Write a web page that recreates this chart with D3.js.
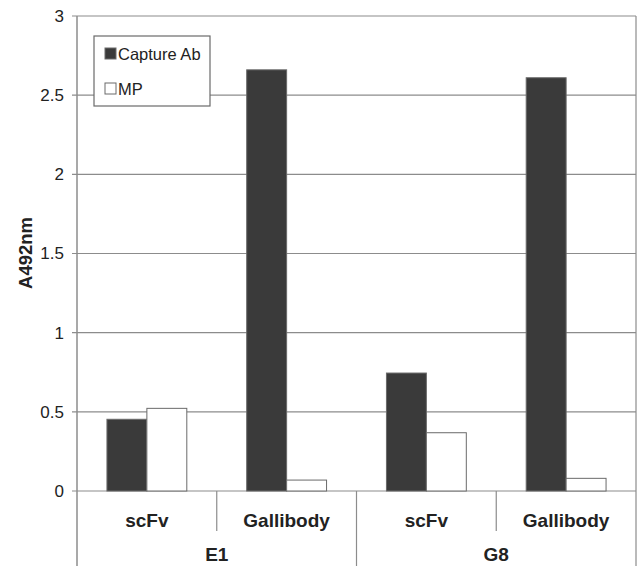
<!DOCTYPE html>
<html><head><meta charset="utf-8">
<script src="https://cdn.jsdelivr.net/npm/d3@7"></script>
<style>body{margin:0;background:#fff}svg{display:block}text{font-family:"Liberation Sans",Arial,sans-serif}</style>
</head><body><svg id="c" width="641" height="566"></svg>
<script>
const groups = ["E1", "G8"];
const subcats = ["scFv", "Gallibody", "scFv", "Gallibody"];
const groupOf = [0, 0, 1, 1];
const seriesNames = ["Capture Ab", "MP"];
const captureAb = [0.453, 2.66, 0.745, 2.61];
const mp = [0.522, 0.069, 0.368, 0.08];
const yTicks = [0, 0.5, 1, 1.5, 2, 2.5, 3];
const yTickLabels = ["0", "0.5", "1", "1.5", "2", "2.5", "3"];
const yTitle = "A492nm";

const svg = d3.select("#c");
const L = 77, R = 636, T = 16, B = 491;
const x = d3.scaleBand().domain(d3.range(subcats.length)).range([L, R]).paddingInner(0).paddingOuter(0);
const y = d3.scaleLinear().domain([0, 3]).range([B, T]);
const inner = d3.scaleBand().domain([0, 1]).range([0, x.bandwidth()]).paddingInner(0).paddingOuter(0.75);
const colors = ["#3a3a3a", "#ffffff"];
const gridC = "#8c8c8c";

svg.append("g").selectAll("line").data(yTicks).join("line")
  .attr("x1", L - 5).attr("x2", R).attr("y1", d => y(d)).attr("y2", d => y(d))
  .attr("stroke", gridC).attr("stroke-width", 1.2);
svg.append("line").attr("x1", R).attr("x2", R).attr("y1", T).attr("y2", 566).attr("stroke", gridC).attr("stroke-width", 1.2);
svg.append("line").attr("x1", L).attr("x2", L).attr("y1", T).attr("y2", 566).attr("stroke", gridC).attr("stroke-width", 1.5);

svg.append("g").selectAll("text").data(yTicks).join("text")
  .attr("x", 64).attr("y", d => y(d)).attr("dy", "0.35em").attr("text-anchor", "end")
  .attr("font-size", 17).attr("fill", "#222").text((d, i) => yTickLabels[i]);

const series = [captureAb, mp];
series.forEach((vals, s) => {
  svg.append("g").selectAll("rect").data(vals).join("rect")
    .attr("x", (d, i) => x(i) + inner(s))
    .attr("width", inner.bandwidth())
    .attr("y", d => y(d)).attr("height", d => y(0) - y(d))
    .attr("fill", colors[s]).attr("stroke", "#6a6a6a").attr("stroke-width", 1);
});

subcats.forEach((c, i) => {
  if (i === 0) return;
  const full = groupOf[i] !== groupOf[i - 1];
  svg.append("line").attr("x1", x(i)).attr("x2", x(i)).attr("y1", B).attr("y2", full ? 566 : 531)
    .attr("stroke", gridC).attr("stroke-width", 1.2);
});
svg.append("g").selectAll("text").data(subcats).join("text")
  .attr("x", (d, i) => x(i) + x.bandwidth() / 2).attr("y", 527).attr("text-anchor", "middle")
  .attr("font-size", 19).attr("font-weight", "bold").attr("fill", "#222").text(d => d);
svg.append("g").selectAll("text").data(groups).join("text")
  .attr("x", (d, g) => (x(2 * g) + x(2 * g + 1) + x.bandwidth()) / 2).attr("y", 561).attr("text-anchor", "middle")
  .attr("font-size", 19).attr("font-weight", "bold").attr("fill", "#222").text(d => d);

svg.append("text").attr("transform", "translate(32,253) rotate(-90)").attr("text-anchor", "middle")
  .attr("font-size", 18.5).attr("font-weight", "bold").attr("fill", "#222").text(yTitle);

const lg = svg.append("g");
lg.append("rect").attr("x", 94).attr("y", 36).attr("width", 116).attr("height", 70)
  .attr("fill", "#fff").attr("stroke", "#6a6a6a").attr("stroke-width", 1.2);
seriesNames.forEach((n, i) => {
  const yy = 54 + i * 35;
  lg.append("rect").attr("x", 105).attr("y", yy - 6).attr("width", 11).attr("height", 11)
    .attr("fill", colors[i]).attr("stroke", "#6a6a6a").attr("stroke-width", 1);
  lg.append("text").attr("x", 118).attr("y", yy).attr("dy", "0.35em")
    .attr("font-size", 16.5).attr("fill", "#222").text(n);
});
</script></body></html>
